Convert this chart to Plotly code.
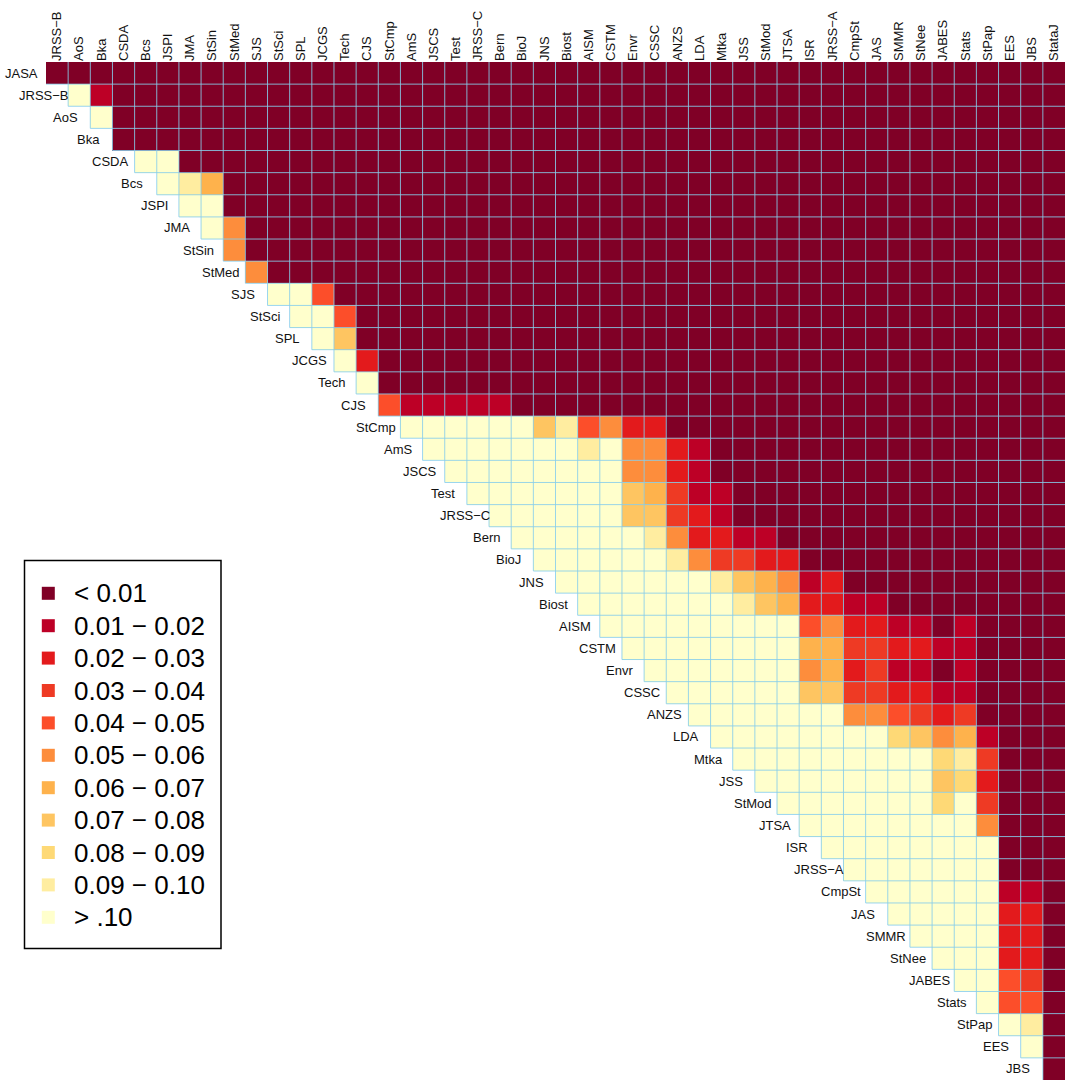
import numpy as np
import plotly.graph_objects as go

# ---------------- data ----------------
journals = ["JASA", "JRSS−B", "AoS", "Bka", "CSDA", "Bcs", "JSPI", "JMA", "StSin", "StMed",
            "SJS", "StSci", "SPL", "JCGS", "Tech", "CJS", "StCmp", "AmS", "JSCS", "Test",
            "JRSS−C", "Bern", "BioJ", "JNS", "Biost", "AISM", "CSTM", "Envr", "CSSC", "ANZS",
            "LDA", "Mtka", "JSS", "StMod", "JTSA", "ISR", "JRSS−A", "CmpSt", "JAS", "SMMR",
            "StNee", "JABES", "Stats", "StPap", "EES", "JBS", "StataJ"]
row_labels = journals[:-1]
col_labels = journals[1:]

# estimated p-values, row i covers columns journals[i+1:]
pvalues = [
    # JASA
    [.005, .005, .005, .005, .005, .005, .005, .005, .005, .005,
     .005, .005, .005, .005, .005, .005, .005, .005, .005, .005,
     .005, .005, .005, .005, .005, .005, .005, .005, .005, .005,
     .005, .005, .005, .005, .005, .005, .005, .005, .005, .005,
     .005, .005, .005, .005, .005, .005],
    # JRSS-B
    [.3, .015,
     .005, .005, .005, .005, .005, .005, .005, .005, .005, .005,
     .005, .005, .005, .005, .005, .005, .005, .005, .005, .005,
     .005, .005, .005, .005, .005, .005, .005, .005, .005, .005,
     .005, .005, .005, .005, .005, .005, .005, .005, .005, .005,
     .005, .005, .005],
    # AoS
    [.3,
     .005, .005, .005, .005, .005, .005, .005, .005, .005, .005,
     .005, .005, .005, .005, .005, .005, .005, .005, .005, .005,
     .005, .005, .005, .005, .005, .005, .005, .005, .005, .005,
     .005, .005, .005, .005, .005, .005, .005, .005, .005, .005,
     .005, .005, .005],
    # Bka
    [.005, .005, .005, .005, .005, .005, .005, .005, .005, .005,
     .005, .005, .005, .005, .005, .005, .005, .005, .005, .005,
     .005, .005, .005, .005, .005, .005, .005, .005, .005, .005,
     .005, .005, .005, .005, .005, .005, .005, .005, .005, .005,
     .005, .005, .005],
    # CSDA
    [.3, .3,
     .005, .005, .005, .005, .005, .005, .005, .005, .005, .005,
     .005, .005, .005, .005, .005, .005, .005, .005, .005, .005,
     .005, .005, .005, .005, .005, .005, .005, .005, .005, .005,
     .005, .005, .005, .005, .005, .005, .005, .005, .005, .005],
    # Bcs
    [.3, .095, .065,
     .005, .005, .005, .005, .005, .005, .005, .005, .005, .005,
     .005, .005, .005, .005, .005, .005, .005, .005, .005, .005,
     .005, .005, .005, .005, .005, .005, .005, .005, .005, .005,
     .005, .005, .005, .005, .005, .005, .005, .005],
    # JSPI
    [.3, .3,
     .005, .005, .005, .005, .005, .005, .005, .005, .005, .005,
     .005, .005, .005, .005, .005, .005, .005, .005, .005, .005,
     .005, .005, .005, .005, .005, .005, .005, .005, .005, .005,
     .005, .005, .005, .005, .005, .005, .005, .005],
    # JMA
    [.3, .055,
     .005, .005, .005, .005, .005, .005, .005, .005, .005, .005,
     .005, .005, .005, .005, .005, .005, .005, .005, .005, .005,
     .005, .005, .005, .005, .005, .005, .005, .005, .005, .005,
     .005, .005, .005, .005, .005, .005, .005],
    # StSin
    [.055,
     .005, .005, .005, .005, .005, .005, .005, .005, .005, .005,
     .005, .005, .005, .005, .005, .005, .005, .005, .005, .005,
     .005, .005, .005, .005, .005, .005, .005, .005, .005, .005,
     .005, .005, .005, .005, .005, .005, .005],
    # StMed
    [.055,
     .005, .005, .005, .005, .005, .005, .005, .005, .005, .005,
     .005, .005, .005, .005, .005, .005, .005, .005, .005, .005,
     .005, .005, .005, .005, .005, .005, .005, .005, .005, .005,
     .005, .005, .005, .005, .005, .005],
    # SJS
    [.3, .3, .045,
     .005, .005, .005, .005, .005, .005, .005, .005, .005, .005,
     .005, .005, .005, .005, .005, .005, .005, .005, .005, .005,
     .005, .005, .005, .005, .005, .005, .005, .005, .005, .005,
     .005, .005, .005],
    # StSci
    [.3, .3, .045,
     .005, .005, .005, .005, .005, .005, .005, .005, .005, .005,
     .005, .005, .005, .005, .005, .005, .005, .005, .005, .005,
     .005, .005, .005, .005, .005, .005, .005, .005, .005, .005,
     .005, .005],
    # SPL
    [.3, .075,
     .005, .005, .005, .005, .005, .005, .005, .005, .005, .005,
     .005, .005, .005, .005, .005, .005, .005, .005, .005, .005,
     .005, .005, .005, .005, .005, .005, .005, .005, .005, .005,
     .005, .005],
    # JCGS
    [.3, .025,
     .005, .005, .005, .005, .005, .005, .005, .005, .005, .005,
     .005, .005, .005, .005, .005, .005, .005, .005, .005, .005,
     .005, .005, .005, .005, .005, .005, .005, .005, .005, .005,
     .005],
    # Tech
    [.3,
     .005, .005, .005, .005, .005, .005, .005, .005, .005, .005,
     .005, .005, .005, .005, .005, .005, .005, .005, .005, .005,
     .005, .005, .005, .005, .005, .005, .005, .005, .005, .005,
     .005],
    # CJS
    [.045, .015, .015, .015, .015, .015,
     .005, .005, .005, .005, .005, .005, .005, .005, .005, .005,
     .005, .005, .005, .005, .005, .005, .005, .005, .005, .005,
     .005, .005, .005, .005, .005],
    # StCmp
    [.3, .3, .3, .3, .3, .3, .075, .095, .045, .055, .025, .025,
     .005, .005, .005, .005, .005, .005, .005, .005, .005, .005,
     .005, .005, .005, .005, .005, .005, .005, .005],
    # AmS
    [.3, .3, .3, .3, .3, .3, .3, .095, .3, .055, .055, .025, .015,
     .005, .005, .005, .005, .005, .005, .005, .005, .005, .005,
     .005, .005, .005, .005, .005, .005],
    # JSCS
    [.3, .3, .3, .3, .3, .3, .3, .3, .055, .055, .025, .015,
     .005, .005, .005, .005, .005, .005, .005, .005, .005, .005,
     .005, .005, .005, .005, .005, .005],
    # Test
    [.3, .3, .3, .3, .3, .3, .3, .075, .065, .035, .015, .015,
     .005, .005, .005, .005, .005, .005, .005, .005, .005, .005,
     .005, .005, .005, .005, .005],
    # JRSS-C
    [.3, .3, .3, .3, .3, .3, .075, .075, .035, .025, .015,
     .005, .005, .005, .005, .005, .005, .005, .005, .005, .005,
     .005, .005, .005, .005, .005],
    # Bern
    [.3, .3, .3, .3, .3, .3, .095, .055, .025, .025, .015, .015,
     .005, .005, .005, .005, .005, .005, .005, .005, .005, .005,
     .005, .005, .005],
    # BioJ
    [.3, .3, .3, .3, .3, .3, .095, .055, .035, .035, .025, .025,
     .005, .005, .005, .005, .005, .005, .005, .005, .005, .005,
     .005, .005],
    # JNS
    [.3, .3, .3, .3, .3, .3, .3, .095, .075, .065, .055, .015, .025,
     .005, .005, .005, .005, .005, .005, .005, .005, .005, .005],
    # Biost
    [.3, .3, .3, .3, .3, .3, .3, .095, .075, .065, .025, .025, .015, .015,
     .005, .005, .005, .005, .005, .005, .005, .005],
    # AISM
    [.3, .3, .3, .3, .3, .3, .3, .3, .3, .045, .055, .025, .025, .015, .015, .005, .015,
     .005, .005, .005, .005],
    # CSTM
    [.3, .3, .3, .3, .3, .3, .3, .3, .065, .065, .035, .035, .025, .025, .015, .015,
     .005, .005, .005, .005],
    # Envr
    [.3, .3, .3, .3, .3, .3, .3, .055, .065, .025, .035, .015, .015, .005, .015,
     .005, .005, .005, .005],
    # CSSC
    [.3, .3, .3, .3, .3, .3, .075, .075, .035, .035, .025, .025, .015, .015,
     .005, .005, .005, .005],
    # ANZS
    [.3, .3, .3, .3, .3, .3, .3, .055, .055, .045, .035, .025, .035,
     .005, .005, .005, .005],
    # LDA
    [.3, .3, .3, .3, .3, .3, .3, .3, .085, .075, .055, .065, .015,
     .005, .005, .005],
    # Mtka
    [.3, .3, .3, .3, .3, .3, .3, .3, .3, .085, .095, .035,
     .005, .005, .005],
    # JSS
    [.3, .3, .3, .3, .3, .3, .3, .3, .075, .085, .025,
     .005, .005, .005],
    # StMod
    [.3, .3, .3, .3, .3, .3, .3, .085, .3, .035,
     .005, .005, .005],
    # JTSA
    [.3, .3, .3, .3, .3, .3, .3, .3, .055,
     .005, .005, .005],
    # ISR
    [.3, .3, .3, .3, .3, .3, .3, .3,
     .005, .005, .005],
    # JRSS-A
    [.3, .3, .3, .3, .3, .3, .3,
     .005, .005, .005],
    # CmpSt
    [.3, .3, .3, .3, .3, .3, .015, .015, .005],
    # JAS
    [.3, .3, .3, .3, .3, .025, .025, .005],
    # SMMR
    [.3, .3, .3, .3, .025, .025, .005],
    # StNee
    [.3, .3, .3, .025, .025, .005],
    # JABES
    [.3, .3, .045, .035, .005],
    # Stats
    [.3, .045, .045, .005],
    # StPap
    [.3, .095, .005],
    # EES
    [.3, .005],
    # JBS
    [.005],
]

bin_edges = [0.01, 0.02, 0.03, 0.04, 0.05, 0.06, 0.07, 0.08, 0.09, 0.10]
legend_labels = ["< 0.01", "0.01 − 0.02", "0.02 − 0.03", "0.03 − 0.04", "0.04 − 0.05",
                 "0.05 − 0.06", "0.06 − 0.07", "0.07 − 0.08", "0.08 − 0.09", "0.09 − 0.10", "> .10"]
colors = ["#800026", "#BD0026", "#E31A1C", "#EE3A24", "#FC4E2A", "#FD8D3C",
          "#FEB24C", "#FEC561", "#FED976", "#FFEDA0", "#FFFFCC"]

# ---------------- build matrix ----------------
n = len(row_labels)
for i, r in enumerate(pvalues):
    assert len(r) == n - i, (i, len(r))

z = [[None] * n for _ in range(n)]
for i, r in enumerate(pvalues):
    cats = np.digitize(r, bin_edges)
    for k, c in enumerate(cats):
        z[i][i + k] = int(c)

ncat = len(colors)
colorscale = []
for k, col in enumerate(colors):
    colorscale.append([k / ncat, col])
    colorscale.append([(k + 1) / ncat, col])

FONT = "Liberation Sans, Arial, Helvetica, sans-serif"
W, H = 1065, 1080
ML, MT = 46, 62
PW, PH = W - ML, H - MT

fig = go.Figure()
fig.add_trace(go.Heatmap(
    z=z, x=list(range(n)), y=list(range(n)),
    colorscale=colorscale, zmin=-0.5, zmax=ncat - 0.5,
    showscale=False, hoverinfo="skip", xgap=0, ygap=0,
))

# grid lines around every cell (upper triangle only)
gx, gy = [], []
for k in range(1, n):          # horizontal boundaries between rows
    gx += [k - 1 - 0.5, n - 0.5, None]
    gy += [k - 0.5, k - 0.5, None]
for m in range(1, n):          # vertical boundaries between columns
    gx += [m - 0.5, m - 0.5, None]
    gy += [-0.5, m + 0.5, None]
fig.add_trace(go.Scatter(x=gx, y=gy, mode="lines",
                         line=dict(color="rgba(135,206,235,0.85)", width=1),
                         hoverinfo="skip", showlegend=False))

# row labels next to the diagonal
cell_px = PW / n
for i, lab in enumerate(row_labels):
    fig.add_annotation(x=i, y=i, xref="x", yref="y", text=lab, showarrow=False,
                       xanchor="center", yanchor="middle", xshift=-1.6 * cell_px,
                       font=dict(family=FONT, size=13, color="#111111"))

# ---------------- legend (own small axes) ----------------
leg_first_px, leg_step_px = 593.3, 32.4     # centre of first key, spacing
y_top = -(leg_first_px - MT) / leg_step_px
y_bot = y_top + PH / leg_step_px
leg_x_dom = 0.2
leg_unit_px = 23.7
x_left = -(48.3 - ML) / leg_unit_px
x_right = x_left + leg_x_dom * PW / leg_unit_px

leg_idx = list(range(ncat))
fig.add_trace(go.Scatter(x=[0] * ncat, y=leg_idx, xaxis="x2", yaxis="y2", mode="markers",
                         marker=dict(symbol="square", size=13, color=colors, line=dict(width=0)),
                         hoverinfo="skip", showlegend=False, cliponaxis=False))
for k, lab in enumerate(legend_labels):
    fig.add_annotation(x=1, y=k, xref="x2", yref="y2", text=lab, showarrow=False,
                       xanchor="left", yanchor="middle",
                       font=dict(family=FONT, size=26, color="#000000"))

# legend frame
fig.add_shape(type="rect", xref="paper", yref="paper",
              x0=(24.5 - ML) / PW, x1=(221 - ML) / PW,
              y0=(H - 948.5) / PH, y1=(H - 560.5) / PH,
              line=dict(color="black", width=1.5), fillcolor="white", layer="below")

fig.update_layout(
    width=W, height=H,
    margin=dict(l=ML, r=0, t=MT, b=0, pad=0),
    paper_bgcolor="white", plot_bgcolor="rgba(0,0,0,0)",
    font=dict(family=FONT, color="#111111"),
    showlegend=False,
    xaxis=dict(range=[-0.5, n - 0.5], side="top", tickmode="array",
               tickvals=list(range(n)), ticktext=col_labels, tickangle=-90,
               showgrid=False, zeroline=False, showline=False, ticks="",
               tickfont=dict(family=FONT, size=13, color="#111111"), automargin=False,
               fixedrange=True),
    yaxis=dict(range=[n - 0.5, -0.5], showticklabels=False, showgrid=False,
               zeroline=False, showline=False, ticks="", automargin=False, fixedrange=True),
    xaxis2=dict(domain=[0, leg_x_dom], range=[x_left, x_right], anchor="y2",
                visible=False, fixedrange=True),
    yaxis2=dict(domain=[0, 1], range=[y_bot, y_top], anchor="x2",
                visible=False, fixedrange=True),
)

fig.write_html("out.html", config={"displayModeBar": False})
